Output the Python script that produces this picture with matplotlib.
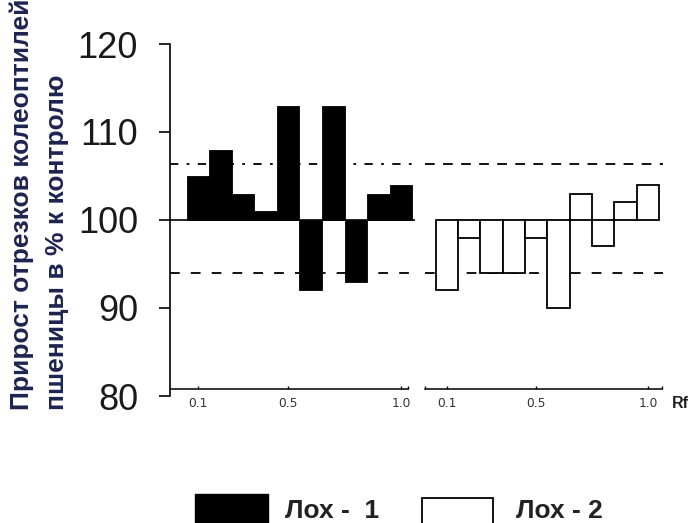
import matplotlib
matplotlib.use('Agg')
import matplotlib.pyplot as plt
from matplotlib.patches import Rectangle
from matplotlib import font_manager

# ---------------- data ----------------
rf = [0.1, 0.2, 0.3, 0.4, 0.5, 0.6, 0.7, 0.8, 0.9, 1.0]
lox1 = [105, 108, 103, 101, 113, 92, 113, 93, 103, 104]
lox2 = [92, 98, 94, 94, 98, 90, 103, 97, 102, 104]
control = 100
upper_limit = 106.4
lower_limit = 94.0
yticks = [80, 90, 100, 110, 120]
xticks = [0.1, 0.5, 1.0]
xtick_labels = ['0.1', '0.5', '1.0']
ylabel_lines = ['Прирост отрезков колеоптилей', 'пшеницы в % к контролю']
legend_labels = ['Лох -  1', 'Лох - 2']
x_unit = 'Rf'

plt.rcParams['lines.scale_dashes'] = False

names = {f.name for f in font_manager.fontManager.ttflist}
if 'Liberation Sans Narrow' in names:
    ylab_family, ylab_size = 'Liberation Sans Narrow', 22.6
else:
    ylab_family, ylab_size = 'Liberation Sans', 19

W, H = 697, 523
fig = plt.figure(figsize=(W / 100, H / 100), dpi=100)


def box(x0, y0, x1, y1):
    return [x0 / W, 1 - y1 / H, (x1 - x0) / W, (y1 - y0) / H]


axL = fig.add_axes(box(170, 44, 415, 396))
axR = fig.add_axes(box(424.5, 44, 663, 396))

axis_y = 80.8
for ax in (axL, axR):
    ax.set_ylim(80, 120)
    ax.patch.set_visible(False)
    ax.spines['top'].set_visible(False)
    ax.spines['right'].set_visible(False)
    ax.spines['bottom'].set_position(('data', axis_y))
    ax.spines['bottom'].set_linewidth(1.1)
    ax.set_xticks(xticks)
    ax.set_xticklabels(xtick_labels)
    ax.tick_params(axis='x', which='both', direction='in', length=2.2,
                   width=1.0, labelsize=8.8, labelcolor='#333333', pad=6.0)
    for lab in ax.get_xticklabels():
        lab.set_family('DejaVu Sans')

axL.set_xlim(-0.024, 1.062)
axR.set_xlim(0.0, 1.067)
axL.spines['bottom'].set_bounds(-0.024, 1.031)
axR.spines['bottom'].set_bounds(0.002, 1.062)
axL.set_xticks([1.031], minor=True)
axR.set_xticks([0.002, 1.062], minor=True)

# y axis only on left
axL.spines['left'].set_linewidth(1.2)
axL.set_yticks(yticks)
axL.tick_params(axis='y', direction='out', length=8, width=1.2,
                labelsize=26, pad=15, labelcolor='#1a1a1a')
for lab in axL.get_yticklabels():
    lab.set_family('Liberation Sans')
axR.spines['left'].set_visible(False)
axR.tick_params(axis='y', left=False, labelleft=False)

# reference lines
axL.axhline(control, color='black', lw=1.2, zorder=1)
axL.axhline(upper_limit, color='black', lw=1.3, ls=(0, (6, 6, 2, 6)), zorder=1)
axL.axhline(lower_limit, color='black', lw=1.3, ls=(0, (7, 8)), zorder=1)
axR.axhline(upper_limit, color='black', lw=1.3, ls=(0, (7, 6)), zorder=1)
axR.axhline(lower_limit, color='black', lw=1.3, ls=(0, (7, 8)), zorder=1)

# bars
axL.bar(rf, [v - control for v in lox1], width=0.1, bottom=control,
        color='black', edgecolor='black', lw=0.6, zorder=2)
axR.bar(rf, [v - control for v in lox2], width=0.1, bottom=control,
        facecolor='white', edgecolor='black', lw=1.3, zorder=2)

# y label (two lines)
fig.text(22 / W, 1 - 410 / H, ylabel_lines[0], rotation=90, ha='center', va='bottom',
         fontsize=ylab_size, fontweight='bold', color='#1d2450', family=ylab_family)
fig.text(57 / W, 1 - 410 / H, ylabel_lines[1], rotation=90, ha='center', va='bottom',
         fontsize=ylab_size, fontweight='bold', color='#1d2450', family=ylab_family)

# Rf label
fig.text(672 / W, 1 - 403 / H, x_unit, ha='left', va='center', fontsize=11.5,
         fontweight='bold', color='#222222', family='Liberation Sans')

# legend
fig.add_artist(Rectangle((195 / W, 1 - 530 / H), 73 / W, 36 / H, transform=fig.transFigure,
                         facecolor='black', edgecolor='black', lw=1))
fig.add_artist(Rectangle((421.5 / W, 1 - 530 / H), 71.5 / W, 32 / H, transform=fig.transFigure,
                         facecolor='white', edgecolor='black', lw=1.3))
fig.text(285 / W, 1 - 511 / H, legend_labels[0], ha='left', va='center', fontsize=19,
         fontweight='bold', color='#222222', family='Liberation Sans')
fig.text(516 / W, 1 - 511 / H, legend_labels[1], ha='left', va='center', fontsize=19,
         fontweight='bold', color='#222222', family='Liberation Sans')

fig.savefig('out.png', dpi=100)
